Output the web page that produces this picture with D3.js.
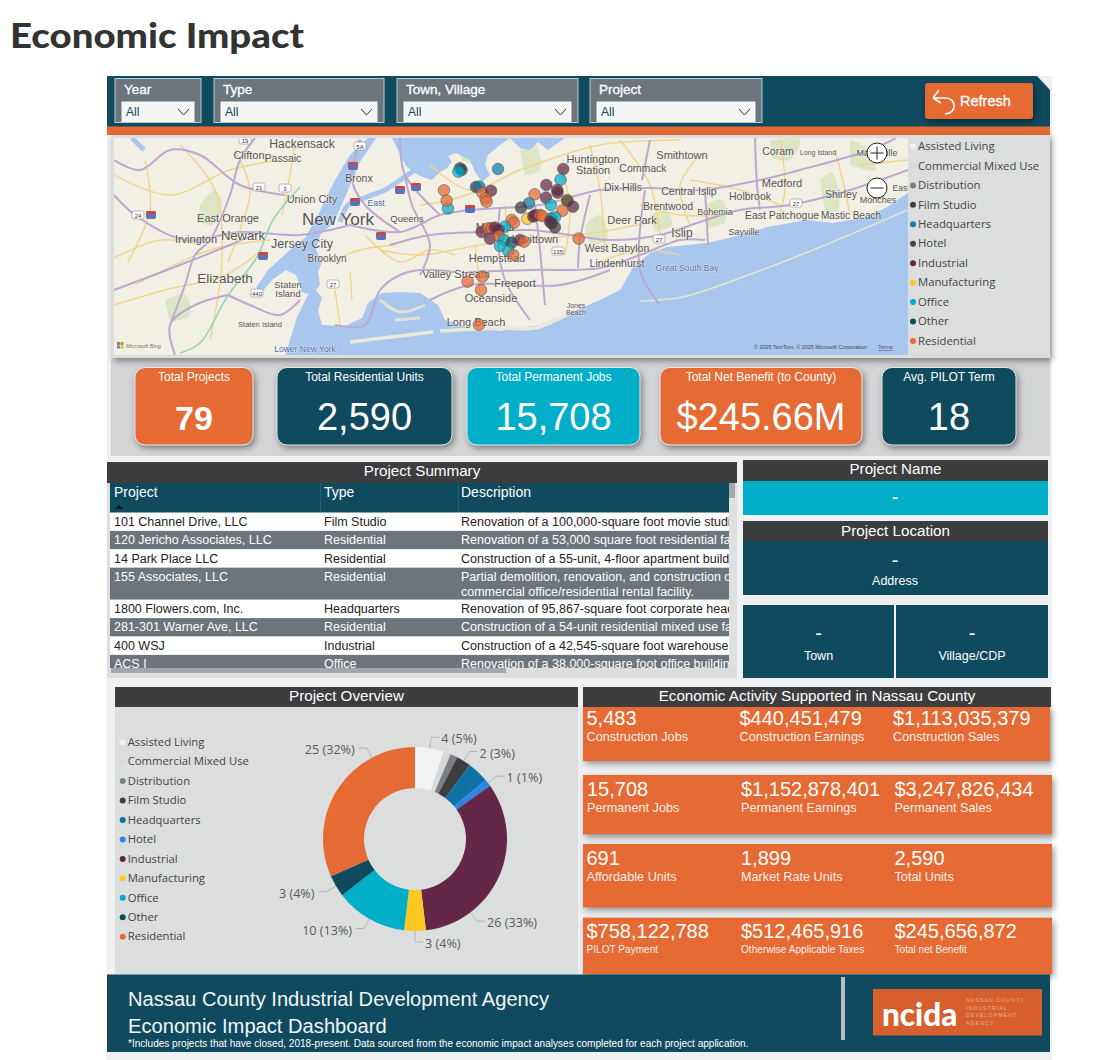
<!DOCTYPE html>
<html><head><meta charset="utf-8">
<script src="https://cdn.jsdelivr.net/npm/d3@7"></script>
<style>
html,body{margin:0;padding:0;background:#fff;}
svg{display:block;}
text{font-family:"Liberation Sans",Arial,sans-serif;}
.seg{font-family:"Open Sans","Noto Sans",sans-serif;}
</style></head><body><div id="c"></div>
<script>
// ---------- data ----------
const categories=["Assisted Living","Commercial Mixed Use","Distribution","Film Studio","Headquarters","Hotel","Industrial","Manufacturing","Office","Other","Residential"];
const projectCounts=[4,1,1,2,3,1,26,3,10,3,25];
const unlabelled=["Commercial Mixed Use","Distribution","Headquarters"];
const slicerTitles=["Year","Type","Town, Village","Project"];
const kpiTitles=["Total Projects","Total Residential Units","Total Permanent Jobs","Total Net Benefit (to County)","Avg. PILOT Term"];
const kpiValues=["79","2,590","15,708","$245.66M","18"];
const tableHeaders=["Project","Type","Description"];
const tableProjects=["101 Channel Drive, LLC","120 Jericho Associates, LLC","14 Park Place LLC","155 Associates, LLC","1800 Flowers.com, Inc.","281-301 Warner Ave, LLC","400 WSJ","ACS I"];
const tableTypes=["Film Studio","Residential","Residential","Residential","Headquarters","Residential","Industrial","Office"];
const tableDescriptions=[
 ["Renovation of a 100,000-square foot movie studio"],
 ["Renovation of a 53,000 square foot residential facility"],
 ["Construction of a 55-unit, 4-floor apartment building"],
 ["Partial demolition, renovation, and construction of a","commercial office/residential rental facility."],
 ["Renovation of 95,867-square foot corporate headquarters"],
 ["Construction of a 54-unit residential mixed use facility"],
 ["Construction of a 42,545-square foot warehouse"],
 ["Renovation of a 38,000-square foot office building"]];
const econValues=[["5,483","$440,451,479","$1,113,035,379"],["15,708","$1,152,878,401","$3,247,826,434"],["691","1,899","2,590"],["$758,122,788","$512,465,916","$245,656,872"]];
const econLabels=[["Construction Jobs","Construction Earnings","Construction Sales"],["Permanent Jobs","Permanent Earnings","Permanent Sales"],["Affordable Units","Market Rate Units","Total Units"],["PILOT Payment","Otherwise Applicable Taxes","Total net Benefit"]];
const projectLon=[-73.6958,-73.6922,-73.6994,-73.6127,-73.7221,-73.7308,-73.7250,-73.6608,-73.6535,-73.6469,-73.6280,-73.6397,-73.6375,-73.4698,-73.4757,-73.5069,-73.4830,-73.4823,-73.5325,-73.5077,-73.4968,-73.5448,-73.5623,-73.4609,-73.4609,-73.4485,-73.4718,-73.5485,-73.5353,-73.5317,-73.5207,-73.5156,-73.4952,-73.4879,-73.4988,-73.4952,-73.4879,-73.5827,-73.5776,-73.5974,-73.6484,-73.6338,-73.6265,-73.6192,-73.6119,-73.6302,-73.6105,-73.5996,-73.6083,-73.5827,-73.5900,-73.5645,-73.5557,-73.5791,-73.4361,-73.6469,-73.6790,-73.6498,-73.6542];
const projectLat=[40.8419,40.8391,40.8364,40.8408,40.7755,40.8054,40.7883,40.8109,40.8115,40.8015,40.8048,40.7921,40.7866,40.8408,40.8231,40.8143,40.8060,40.8016,40.7988,40.7933,40.7811,40.7839,40.7767,40.7894,40.7880,40.7783,40.7717,40.7584,40.7618,40.7645,40.7645,40.7628,40.7590,40.7606,40.7535,40.7507,40.7440,40.7562,40.7518,40.7451,40.7363,40.7424,40.7424,40.7435,40.7396,40.7253,40.7297,40.7231,40.7131,40.7186,40.7048,40.7231,40.7203,40.6982,40.7253,40.6622,40.6539,40.6401,40.5825];
const projectType=["Film Studio","Other","Office","Headquarters","Office","Residential","Residential","Film Studio","Headquarters","Residential","Industrial","Residential","Residential","Industrial","Office","Industrial","Industrial","Industrial","Residential","Industrial","Office","Headquarters","Film Studio","Manufacturing","Film Studio","Industrial","Residential","Manufacturing","Industrial","Industrial","Residential","Residential","Headquarters","Office","Industrial","Industrial","Film Studio","Residential","Residential","Office","Industrial","Residential","Residential","Industrial","Industrial","Industrial","Residential","Office","Office","Other","Office","Industrial","Residential","Residential","Residential","Residential","Residential","Residential","Residential"];

// ---------- styles ----------
const TEAL="#0f4a5f",ORANGE="#e56a33",CYAN="#00aec8",GREY="#6d757c",DARK="#3d3c3e",PANEL="#dcdedd";
const donutColor=d3.scaleOrdinal(categories,["#f1f2f3","#d6d8d9","#7b7f85","#3d3d40","#0f72a6","#2a86e8","#642747","#fdc721","#00aec8","#0f4a5f","#e56a33"]);
const mapColor=d3.scaleOrdinal(categories,["#f1f2f3","#d6d8d9","#7b7f85","#3d3d40","#0f7ba6","#47474a","#642747","#fdc721","#00aec8","#0f4a5f","#e56a33"]);

const svg=d3.select("#c").append("svg").attr("width",1105).attr("height",1060);
const defs=svg.append("defs");
const R=(g,x,y,w,h,f,extra={})=>{const r=g.append("rect").attr("x",x).attr("y",y).attr("width",w).attr("height",h).attr("fill",f);for(const k in extra)r.attr(k,extra[k]);return r;};
const T=(g,s,x,y,size,fill,extra={})=>{const t=g.append("text").text(s).attr("x",x).attr("y",y).attr("font-size",size).attr("fill",fill);for(const k in extra)t.attr(k,extra[k]);return t;};
const shadow=s=>s.style("filter","drop-shadow(2px 3px 3px rgba(0,0,0,.4))");

// title
T(svg,"Economic Impact",10,48,35,"#333",{"font-weight":900,style:"font-family:Lato,sans-serif",textLength:294,lengthAdjust:"spacingAndGlyphs"});
// report background
R(svg,107,76,945,984,"#eff0f1");
R(svg,111,358,939,98,"#d2d4d6");

// ---------- top bar ----------
svg.append("path").attr("d",d3.line()([[107,76],[1037,76],[1050,90],[1050,127],[107,127]])+"Z").attr("fill",TEAL);
R(svg,107,126.5,943,8.5,ORANGE);
const slicerLeft=[115,214,397,590],slicerRight=[201,384,578,762];
slicerTitles.forEach((s,i)=>{
  const x0=slicerLeft[i],x1=slicerRight[i];
  R(svg,x0,78.5,x1-x0,44,GREY,{stroke:"#b4cdd8","stroke-width":1});
  T(svg,s,x0+9,94,13.5,"#fff",{stroke:"#fff","stroke-width":.3});
  R(svg,x0+6.5,101.5,x1-x0-13,20.5,"#f4f5f5");
  T(svg,"All",x0+11,116,12,TEAL);
  svg.append("path").attr("d",`M${x1-23},109 L${x1-17.5},115 L${x1-12},109`).attr("fill","none").attr("stroke","#333").attr("stroke-width",1);
});
shadow(R(svg,925,83,108,36,ORANGE,{rx:3}));
svg.append("path").attr("d","M933,98 L939,90 M933,98 L941,103 M933,98 L946,98 C956,98 958,113 945,114").attr("fill","none").attr("stroke","#fff").attr("stroke-width",1.6);
T(svg,"Refresh",960,106,14.5,"#fff",{stroke:"#fff","stroke-width":.3});

// ---------- map ----------
shadow(R(svg,112,135,938,223,PANEL));
defs.append("clipPath").attr("id","mapclip").append("rect").attr("x",114).attr("y",138).attr("width",794).attr("height",217);
const map=svg.append("g").attr("clip-path","url(#mapclip)");
R(map,114,138,794,217,"#f2efe5");
const line=d3.line(), curve=d3.line().curve(d3.curveCatmullRom);
const WATER="#a9c6ef";
const greenPatches=[[[200,205],[215,190],[222,205],[212,225],[198,222]],[[165,300],[185,295],[190,315],[170,322]],[[390,322],[410,310],[408,330],[392,335]],[[650,215],[665,210],[672,225],[655,232]],[[705,205],[722,200],[725,222],[708,228]],[[820,180],[832,172],[838,210],[825,212]],[[585,225],[600,215],[607,240],[590,245]],[[770,140],[800,140],[790,160],[772,158]],[[520,150],[535,145],[540,170],[525,175]],[[455,140],[470,145],[478,165],[462,160]],[[850,140],[870,150],[875,170],[850,165]]];
greenPatches.forEach(p=>map.append("path").attr("d",curve(p)+"Z").attr("fill","#d6e3bb").attr("opacity",.8));
const waters=[
 [[392,138],[398,150],[406,166],[420,176],[432,180],[437,175],[440,172],[447,168],[452,162],[448,156],[456,153],[470,160],[475,172],[482,182],[490,175],[485,165],[488,155],[500,145],[510,138],[520,148],[530,150],[538,142],[548,150],[555,145],[565,138]],
 [[368,138],[376,138],[358,165],[346,195],[334,222],[320,235],[316,250],[322,262],[318,272],[320,285],[312,295],[302,292],[296,275],[286,270],[272,280],[262,292],[256,288],[268,270],[290,250],[305,238],[318,215],[335,180],[350,155]],
 [[285,356],[297,317],[308,295],[316,290],[322,298],[318,310],[322,325],[345,326],[362,318],[368,303],[382,293],[400,292],[420,293],[438,305],[445,320],[470,328],[500,331],[540,325],[565,315],[600,300],[620,290],[633,267],[650,253],[667,247],[707,243],[733,237],[767,227],[807,220],[833,223],[867,217],[887,207],[908,193],[910,356]]
];
waters.forEach(p=>map.append("path").attr("d",line(p)+"Z").attr("fill",WATER));
const waterLines=[[[340,222],[348,205],[367,197],[385,190],[400,180],[415,170]],[[360,140],[356,160],[352,178]],[[132,138],[144,150]]];
waterLines.forEach(p=>map.append("path").attr("d",curve(p)).attr("fill","none").attr("stroke",WATER).attr("stroke-width",5));
[[[350,342],[400,336],[433,332]],[[440,331],[500,328],[535,328],[570,313]]].forEach(p=>map.append("path").attr("d",curve(p)).attr("fill","none").attr("stroke","#ece9d8").attr("stroke-width",3.5));
[[[380,300],[400,312],[425,305]],[[395,320],[420,318]]].forEach(p=>map.append("path").attr("d",curve(p)).attr("fill","none").attr("stroke","#dfe4d0").attr("stroke-width",3));
map.append("path").attr("d",curve([[640,301],[683,297],[743,277],[813,250],[908,210]])).attr("fill","none").attr("stroke","#dfe8c8").attr("stroke-width",1.6);
const yellowRoads=[[[114,175],[170,195],[230,170],[280,160]],[[135,285],[210,250],[270,240]],[[180,145],[215,190],[222,260],[210,340]],[[380,250],[420,255],[480,245],[530,240],[600,232],[660,220]],[[430,165],[470,190],[520,170],[600,145],[680,140]],[[590,145],[600,190],[605,250]],[[620,140],[650,185],[660,235]],[[690,180],[740,190],[780,205]],[[780,140],[785,190],[778,220]],[[835,150],[845,190],[850,215]],[[365,235],[400,262],[430,250],[455,255]],[[335,290],[340,325]],[[110,260],[160,240],[200,245]],[[505,205],[510,260]],[[700,155],[680,185],[690,225]],[[860,165],[908,160]],[[560,165],[570,205],[565,255]],
[[114,305],[165,290],[225,275],[262,250]],[[235,150],[250,190],[240,230],[228,262]],[[145,160],[150,210],[128,262]],[[295,140],[290,175],[282,215]],[[330,262],[360,250],[395,245]],[[350,272],[352,300]],[[420,205],[450,200],[480,190]],[[640,205],[680,215],[720,215]],[[475,245],[478,270],[480,300]],[[600,262],[640,250],[680,255]]];
yellowRoads.forEach(p=>map.append("path").attr("d",curve(p)).attr("fill","none").attr("stroke","#f1d48a").attr("stroke-width",1.4));
const purpleRoads=[[[350,225],[400,232],[440,215],[470,210],[500,208],[540,205],[600,190],[650,188],[700,190],[760,180],[800,170],[870,150],[896,138]],
[[390,245],[430,235],[480,232],[530,230],[570,235],[610,240],[660,235],[700,222],[740,210],[790,205],[850,190],[908,170]],
[[467,272],[530,270],[600,268],[640,255],[680,240],[705,240]],
[[335,325],[365,325],[380,290],[400,275],[420,270],[455,272]],
[[535,205],[540,250],[545,305]],[[500,208],[498,240],[505,280],[530,320]],[[590,195],[580,240],[578,268]],
[[405,175],[412,205],[430,245],[420,275]],[[360,140],[352,180],[365,205],[400,232]],[[400,138],[405,175],[440,215]],
[[114,160],[140,170],[170,150],[200,155],[240,185],[285,195]],[[114,195],[135,215],[185,240],[240,232],[300,235],[350,225]],
[[170,325],[185,285],[195,255],[210,240],[230,195],[240,160],[255,138]],[[114,290],[180,265],[230,245],[260,232]],
[[228,295],[250,305],[280,315],[300,300]],[[175,355],[170,325],[195,305],[228,295]],[[642,180],[650,140]],[[645,190],[640,270],[660,305]],[[755,138],[757,185],[760,210]],[[705,190],[707,225],[708,245]],[[430,300],[470,285],[560,285],[610,270]]];
purpleRoads.forEach(p=>map.append("path").attr("d",curve(p)).attr("fill","none").attr("stroke","#bda9d0").attr("stroke-width",2));
map.append("path").attr("d",curve([[180,353],[200,343],[227,297],[257,257],[273,220],[300,187]])).attr("fill","none").attr("stroke","#96d6b6").attr("stroke-width",1.6);
const mapLabels=[["Hackensack",302,148,12],["Clifton",249,159,11],["Passaic",283,162,10.5],["Bronx",359,182,10.5],["Union City",312,203,11],["East",376,206,8.5,"#4a6fb0"],["Queens",407,222,9.5],["New York",338,225,17],["East Orange",228,222,11],["Irvington",196,243,11],["Newark",243,240,13],["Jersey City",302,248,12.5],["Brooklyn",327,262,10],["Elizabeth",225,283,13.5],["Staten",288,288,9.5],["Island",288,297,9.5],["Staten Island",260,327,7.5],["Lower New York",305,352,8.5,"#4a6fb0"],["Valley Stream",456,278,11],["Mineola",495,231,11],["Levittown",535,243,11],["Hempstead",497,262,11],["Freeport",515,287,11],["Oceanside",491,302,11],["Long Beach",476,326,11],["Jones",576,308,7],["Beach",576,315,7],["Huntington",593,163,11],["Station",593,174,11],["Commack",643,172,10.5],["Smithtown",682,159,11],["Coram",778,155,10.5],["Long Island",818,155,7],["Dix Hills",623,191,10.5],["Central Islip",689,195,10.5],["Medford",782,187,11],["Holbrook",750,200,10.5],["Brentwood",668,210,10.5],["Bohemia",715,215,9],["East Patchogue",782,219,10.5],["Shirley",841,198,10.5],["Moriches",878,203,9],["Mastic Beach",851,219,10],["Deer Park",632,224,11],["Islip",682,237,12],["Sayville",744,235,9],["West Babylon",617,252,10.5],["Lindenhurst",617,267,10.5],["Great South Bay",687,271,8.5,"#4a6fb0"],["Manorville",877,156,9],["East",901,191,8.5]];
mapLabels.forEach(d=>T(map,d[0],d[1],d[2],d[3],d[4]||"#555",{"text-anchor":"middle",stroke:"#f6f4ee","stroke-width":1.2,"stroke-opacity":.6,"paint-order":"stroke"}));
const shields=[[353,166],[355,202],[400,190],[416,187],[470,209],[381,236],[263,256],[151,215]];
shields.forEach(s=>{R(map,s[0]-5,s[1]-4,10,8,"#5b72b8",{rx:2});R(map,s[0]-5,s[1]-4,10,3,"#c8484a",{rx:1.5});});
const smallShields=[[259,187,"21"],[285,188,"3"],[138,215,"24"],[333,284,"27"],[257,293,"440"],[558,251,"135"],[659,239,"27"],[796,203,"27"],[245,140,"19"],[360,146,"5A"]];
smallShields.forEach(s=>{R(map,s[0]-6,s[1]-4,12,8,"#fff",{rx:2,stroke:"#777","stroke-width":.5});T(map,s[2],s[0],s[1]+2.5,6,"#333",{"text-anchor":"middle"});});
T(map,"© 2025 TomTom, © 2025 Microsoft Corporation",754,349,5.4,"#444");
T(map,"Terms",878,349,5.4,"#556",{"text-decoration":"underline"});
T(map,"Microsoft Bing",126,348,5.5,"#777");
[["#e8583a",117,342],["#7eb83a",120.5,342],["#3aa0e0",117,345.5],["#f0c030",120.5,345.5]].forEach(c=>R(map,c[1],c[2],3,3,c[0]));

// project points
const lonScale=d3.scaleLinear().domain([-74.21,-73.21]).range([225,682]);
const latScale=d3.scaleLinear().domain([40.66,40.85]).range([278,163.43]);
map.append("g").selectAll("circle").data(projectLon.map((lon,i)=>({lon,lat:projectLat[i],type:projectType[i]}))).join("circle")
 .attr("cx",d=>lonScale(d.lon)).attr("cy",d=>latScale(d.lat)).attr("r",5.8)
 .attr("fill",d=>mapColor(d.type)).attr("fill-opacity",.72).attr("stroke","#4a4a4a").attr("stroke-opacity",.6).attr("stroke-width",.9);
[[877,153,"+"],[877,188,"-"]].forEach(c=>{
  map.append("circle").attr("cx",c[0]).attr("cy",c[1]).attr("r",10).attr("fill","#fff").attr("stroke","#222").attr("stroke-width",1);
  map.append("path").attr("d",c[2]=="+"?`M${c[0]-6.5},${c[1]} H${c[0]+6.5} M${c[0]},${c[1]-6.5} V${c[1]+6.5}`:`M${c[0]-6.5},${c[1]} H${c[0]+6.5}`).attr("stroke","#222").attr("stroke-width",1);
});
// legends
const legendY=d3.scaleLinear().domain([0,10]).range([0,194.5]);
function legend(x0,y0,col){
  categories.forEach((c,i)=>{
    const y=y0+legendY(i);
    svg.append("circle").attr("cx",x0).attr("cy",y+.5).attr("r",3).attr("fill",col(c));
    T(svg,c,x0+5,y+4.2,11.3,"#444",{class:"seg"});
  });
}
legend(913,146,mapColor);

// ---------- KPI cards ----------
const kpiX=[135,277,467,660,882],kpiW=[118,175,173,202,134],kpiFill=[ORANGE,TEAL,CYAN,ORANGE,TEAL],kpiSize=[34,38,38,38,38];
kpiTitles.forEach((s,i)=>{
  shadow(R(svg,kpiX[i],367.5,kpiW[i],77.5,kpiFill[i],{rx:10,stroke:"#e6e8e8","stroke-width":1}));
  const cx=kpiX[i]+kpiW[i]/2;
  T(svg,s,cx,381,12,"#fff",{"text-anchor":"middle"});
  T(svg,kpiValues[i],cx,430,kpiSize[i],"#fff",{"text-anchor":"middle","font-weight":i==0?700:400});
});

// ---------- table ----------
R(svg,107,462,630,216,PANEL);
R(svg,107,462,630,21,DARK);
T(svg,"Project Summary",422,476,15.2,"#fff",{"text-anchor":"middle"});
R(svg,110,483,619,30,TEAL);
const colX=[114,324,461];
tableHeaders.forEach((h,i)=>T(svg,h,colX[i],497,14,"#fff"));
[320,458].forEach(x=>R(svg,x,483,.7,30,"#2c6a80"));
svg.append("path").attr("d","M115,509 L119,505 L123,509Z").attr("fill","#111");
defs.append("clipPath").attr("id","tclip").append("rect").attr("x",110).attr("y",512).attr("width",619).attr("height",156);
defs.append("clipPath").attr("id","dclip").append("rect").attr("x",459).attr("y",512).attr("width",270).attr("height",156);
const tg=svg.append("g").attr("clip-path","url(#tclip)");
let rowY=512.5;
tableProjects.forEach((p,i)=>{
  const lines=tableDescriptions[i],h=lines.length>1?32:18.4;
  const f=i%2?GREY:"#fff",c=i%2?"#fff":"#222";
  R(tg,110,rowY,619,h,f);
  T(tg,p,114,rowY+13.3,12.5,c);
  T(tg,tableTypes[i],324,rowY+13.3,12.5,c);
  lines.forEach((l,j)=>T(tg,l,461,rowY+13.3+j*15,12.5,c,{"clip-path":"url(#dclip)"}));
  rowY+=h;
});
R(svg,729,483,7,185,"#dfe1e1");R(svg,729,483,6,15,"#a3a7ab");
R(svg,111,668,395,5,"#a3a7ab");

// ---------- right panels ----------
function hdr(x,y,w,h,s,dy=5.5){R(svg,x,y,w,h,DARK);T(svg,s,x+w/2,y+h-dy,15.2,"#fff",{"text-anchor":"middle"});}
hdr(743,460,305,21,"Project Name",7);
R(svg,743,481,305,34,CYAN);T(svg,"-",895,504,20,"#fff",{"text-anchor":"middle"});
hdr(743,521,305,20.5,"Project Location",6);
R(svg,743,541,305,54,TEAL);T(svg,"-",895,567,20,"#fff",{"text-anchor":"middle"});T(svg,"Address",895,585,12.5,"#fff",{"text-anchor":"middle"});
R(svg,743,605,151,73,TEAL);T(svg,"-",818.5,640,20,"#fff",{"text-anchor":"middle"});T(svg,"Town",818.5,660,12.5,"#fff",{"text-anchor":"middle"});
R(svg,896,605,152,73,TEAL);T(svg,"-",972,640,20,"#fff",{"text-anchor":"middle"});T(svg,"Village/CDP",972,660,12.5,"#fff",{"text-anchor":"middle"});

// ---------- donut ----------
R(svg,115,707,463,267,PANEL);
hdr(115,687,463,20,"Project Overview",6);
legend(122.7,741.7,donutColor);
const cx=415,cy=839,rO=92,rI=51;
const pie=d3.pie().sort(null).value(d=>d.v);
const arcs=pie(categories.map((c,i)=>({c,v:projectCounts[i]})));
const arc=d3.arc().innerRadius(rI).outerRadius(rO);
const dg=svg.append("g").attr("transform",`translate(${cx},${cy})`);
dg.selectAll("path").data(arcs).join("path").attr("d",arc).attr("fill",d=>donutColor(d.data.c));
const total=d3.sum(projectCounts);
const largeSliceShift=29*Math.PI/180;
arcs.filter(d=>!unlabelled.includes(d.data.c)).forEach(d=>{
  let a=(d.startAngle+d.endAngle)/2;
  if(d.data.v>=20)a+=largeSliceShift;
  const s=Math.sin(a),c=-Math.cos(a);
  const right=a<=Math.PI+.01,sg=right?1:-1;
  const ex=103*s,ey=103*c;
  dg.append("path").attr("d",line([[rO*s,rO*c],[ex,ey],[ex+sg*8,ey]])).attr("fill","none").attr("stroke","#a8aaab").attr("stroke-width",.8);
  T(dg,`${d.data.v} (${Math.round(d.data.v/total*100)}%)`,ex+sg*(right?10:12),ey+6,12.6,"#5a5a5a",{class:"seg","text-anchor":right?"start":"end"});
});

// ---------- economic activity ----------
const econTop=[707,775,844,917.7],econH=[54,59.3,63.3,56.3],econW=[467,469,469,469];
const econValueY=[725,796,865,938.3],econLabelY=[740.7,811.7,880.7,952.7];
const econColX=[[586.5,739.5,893],[587,741,894.5],[586.5,741,894.5],[586.5,741,894.5]];
econValues.forEach((row,i)=>{
  shadow(R(svg,583,econTop[i],econW[i],econH[i],ORANGE));
  row.forEach((v,j)=>{
    T(svg,v,econColX[i][j],econValueY[i],20,"#fff");
    T(svg,econLabels[i][j],econColX[i][j],econLabelY[i],i==3?10.1:12.7,"#f6f0ea");
  });
});
hdr(583,687,468,20,"Economic Activity Supported in Nassau County",6);

// ---------- footer ----------
R(svg,107,974.5,943,77.5,TEAL);
T(svg,"Nassau County Industrial Development Agency",128,1005.5,20.15,"#f2f5f6");
T(svg,"Economic Impact Dashboard",128,1033,20.15,"#f2f5f6");
T(svg,"*Includes projects that have closed, 2018-present. Data sourced from the economic impact analyses completed for each project application.",128,1047,10.05,"#fff");
R(svg,841,977,4,63,"#b9bdc0");
R(svg,873,989,169,46.5,"#d75f2e");
T(svg,"ncida",882,1026,31.5,"#fff",{"font-weight":900,style:"font-family:Lato,sans-serif"});
["NASSAU COUNTY","INDUSTRIAL","DEVELOPMENT","AGENCY"].forEach((s,i)=>T(svg,s,966,1002+i*7.6,5.2,"#eba987",{"letter-spacing":1.1}));
</script></body></html>
